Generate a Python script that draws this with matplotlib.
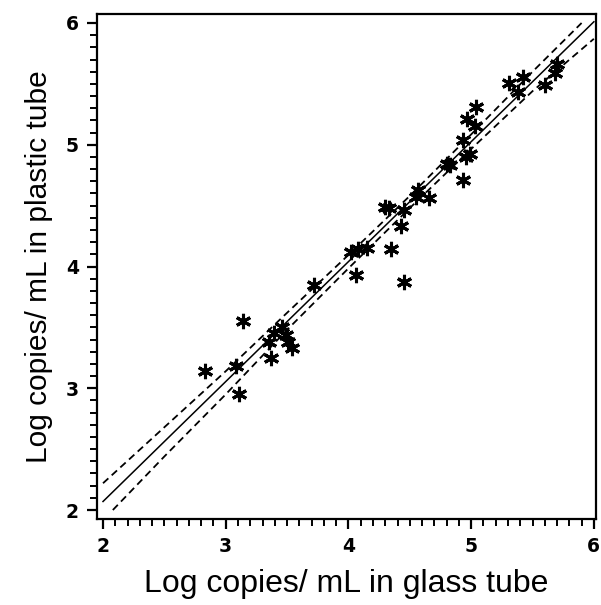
import matplotlib
matplotlib.use("Agg")
import matplotlib.pyplot as plt
from matplotlib.ticker import MultipleLocator

# paired measurements (log copies/mL): glass tube vs plastic tube
glass = [2.83, 3.08, 3.14, 3.11, 3.37, 3.35, 3.39, 3.46, 3.49, 3.51, 3.54,
         3.72, 4.02, 4.08, 4.15, 4.06, 4.30, 4.33, 4.45, 4.43, 4.35, 4.45,
         4.55, 4.57, 4.66, 4.80, 4.83, 4.93, 4.96, 4.99, 4.93, 4.97, 5.03,
         5.04, 5.31, 5.42, 5.38, 5.60, 5.70, 5.68]
plastic = [3.14, 3.18, 3.55, 2.95, 3.25, 3.38, 3.45, 3.50, 3.44, 3.38, 3.33,
           3.85, 4.12, 4.14, 4.15, 3.93, 4.49, 4.48, 4.46, 4.33, 4.14, 3.87,
           4.57, 4.63, 4.56, 4.84, 4.83, 5.04, 4.90, 4.92, 4.71, 5.21, 5.15,
           5.31, 5.51, 5.56, 5.43, 5.49, 5.66, 5.59]

# regression line and confidence band
fit_x = [2.0, 6.0]
fit_y = [2.07, 6.01]
upper_x = [2.0, 2.5, 3.0, 3.5, 4.0, 4.5, 5.0, 5.5, 5.9]
upper_y = [2.22, 2.68, 3.14, 3.62, 4.095, 4.58, 5.085, 5.60, 6.0]
lower_x = [2.08, 2.5, 3.0, 3.5, 4.0, 4.5, 5.0, 5.5, 6.0]
lower_y = [2.0, 2.44, 2.95, 3.48, 3.985, 4.48, 4.965, 5.44, 5.87]

# heavy digits on the ticks, plain sans for the axis titles
plt.rcParams["font.family"] = ["DejaVu Sans"]
plt.rcParams["font.weight"] = "bold"

fig = plt.figure(figsize=(6.01, 6.05), dpi=100)
# right edge pulled in a little so the "6" tick label stays inside the image
ax = fig.add_axes([0.1614, 0.1421, 0.8300, 0.8348])

ax.plot(fit_x, fit_y, color="black", lw=1.1)
ax.plot(upper_x, upper_y, color="black", lw=1.3, ls=(0, (4, 2.5)))
ax.plot(lower_x, lower_y, color="black", lw=1.3, ls=(0, (4, 2.5)))
ax.plot(glass, plastic, ls="none", marker=(6, 2, 0), ms=11, mew=2.2,
        color="black")

ax.set_xlim(1.951, 6.016)
ax.set_ylim(1.926, 6.074)
ax.xaxis.set_major_locator(MultipleLocator(1))
ax.xaxis.set_minor_locator(MultipleLocator(0.1))
ax.yaxis.set_major_locator(MultipleLocator(1))
ax.yaxis.set_minor_locator(MultipleLocator(0.1))
ax.tick_params(which="major", direction="out", length=7, width=1.6,
               labelsize=13.5, pad=6)
ax.tick_params(which="minor", direction="out", length=5, width=1.4)
for s in ax.spines.values():
    s.set_linewidth(1.6)

ax.set_xlabel("Log copies/ mL in glass tube", fontsize=23, labelpad=9,
              fontweight="normal", family="Liberation Sans")
ax.set_ylabel("Log copies/ mL in plastic tube", fontsize=21.5, labelpad=9,
              fontweight="normal", family="Liberation Sans")

fig.savefig("out.png", dpi=100)
